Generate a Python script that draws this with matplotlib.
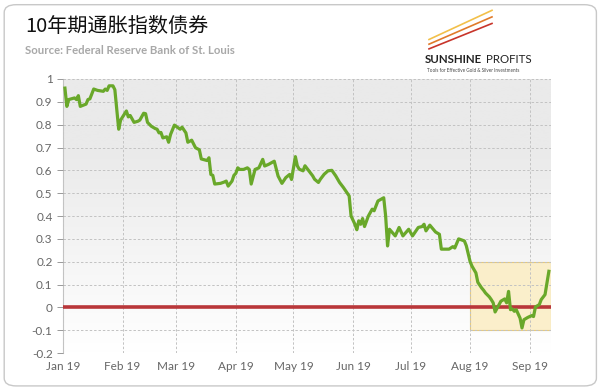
import numpy as np
import pandas as pd
import matplotlib
matplotlib.use("Agg")
import matplotlib.pyplot as plt
import matplotlib.dates as mdates
from matplotlib.patches import FancyBboxPatch, Rectangle

# values
dates = [
    "2019-01-02", "2019-01-03", "2019-01-04", "2019-01-07", "2019-01-08", "2019-01-09",
    "2019-01-10", "2019-01-13", "2019-01-14", "2019-01-15", "2019-01-17", "2019-01-19",
    "2019-01-22", "2019-01-23", "2019-01-24", "2019-01-25", "2019-01-27", "2019-01-28",
    "2019-01-29", "2019-01-30", "2019-01-31", "2019-02-03", "2019-02-04", "2019-02-05",
    "2019-02-07", "2019-02-09", "2019-02-10", "2019-02-12", "2019-02-13", "2019-02-14",
    "2019-02-16", "2019-02-18", "2019-02-19", "2019-02-20", "2019-02-21", "2019-02-22",
    "2019-02-24", "2019-02-25", "2019-02-26", "2019-02-28", "2019-03-02", "2019-03-03",
    "2019-03-04", "2019-03-06", "2019-03-07", "2019-03-09", "2019-03-11", "2019-03-13",
    "2019-03-14", "2019-03-17", "2019-03-18", "2019-03-19", "2019-03-20", "2019-03-21",
    "2019-03-24", "2019-03-26", "2019-03-27", "2019-03-28", "2019-03-30", "2019-03-31",
    "2019-04-01", "2019-04-02", "2019-04-03", "2019-04-05", "2019-04-07", "2019-04-08",
    "2019-04-09", "2019-04-11", "2019-04-13", "2019-04-15", "2019-04-16", "2019-04-18",
    "2019-04-21", "2019-04-23", "2019-04-25", "2019-04-27", "2019-04-29", "2019-04-30",
    "2019-05-02", "2019-05-03", "2019-05-04", "2019-05-06", "2019-05-07", "2019-05-09",
    "2019-05-11", "2019-05-12", "2019-05-14", "2019-05-15", "2019-05-17", "2019-05-19",
    "2019-05-21", "2019-05-23", "2019-05-25", "2019-05-27", "2019-05-30", "2019-05-31",
    "2019-06-02", "2019-06-03", "2019-06-04", "2019-06-05", "2019-06-06", "2019-06-07",
    "2019-06-09", "2019-06-11", "2019-06-12", "2019-06-14", "2019-06-17", "2019-06-18",
    "2019-06-19", "2019-06-20", "2019-06-23", "2019-06-25", "2019-06-27", "2019-06-30",
    "2019-07-02", "2019-07-05", "2019-07-07", "2019-07-08", "2019-07-09", "2019-07-11",
    "2019-07-14", "2019-07-16", "2019-07-17", "2019-07-21", "2019-07-23", "2019-07-24",
    "2019-07-26", "2019-07-29", "2019-07-30", "2019-08-01", "2019-08-02", "2019-08-04",
    "2019-08-05", "2019-08-07", "2019-08-08", "2019-08-09", "2019-08-11", "2019-08-12",
    "2019-08-13", "2019-08-14", "2019-08-16", "2019-08-17", "2019-08-19", "2019-08-20",
    "2019-08-21", "2019-08-22", "2019-08-23", "2019-08-24", "2019-08-25", "2019-08-27",
    "2019-08-28", "2019-08-29", "2019-08-31", "2019-09-02", "2019-09-03", "2019-09-04",
    "2019-09-06", "2019-09-07", "2019-09-09", "2019-09-10", "2019-09-11",
]
yields = [
    0.96, 0.88, 0.91, 0.917, 0.91, 0.927,
    0.88, 0.89, 0.91, 0.913, 0.956, 0.95,
    0.946, 0.956, 0.95, 0.97, 0.97, 0.953,
    0.866, 0.78, 0.82, 0.86, 0.834, 0.84,
    0.81, 0.815, 0.82, 0.85, 0.848, 0.81,
    0.793, 0.783, 0.78, 0.764, 0.766, 0.742,
    0.747, 0.723, 0.757, 0.798, 0.786, 0.78,
    0.789, 0.764, 0.723, 0.732, 0.699, 0.69,
    0.65, 0.643, 0.655, 0.582, 0.578, 0.54,
    0.543, 0.549, 0.553, 0.531, 0.553, 0.578,
    0.587, 0.611, 0.604, 0.604, 0.611, 0.604,
    0.54, 0.604, 0.611, 0.648, 0.619, 0.626,
    0.64, 0.575, 0.543, 0.568, 0.582, 0.56,
    0.66, 0.62, 0.605, 0.598, 0.62, 0.598,
    0.576, 0.561, 0.547, 0.561, 0.583, 0.598,
    0.60, 0.576, 0.547, 0.525, 0.488, 0.40,
    0.364, 0.34, 0.379, 0.364, 0.389, 0.354,
    0.40, 0.43, 0.423, 0.466, 0.48, 0.40,
    0.269, 0.342, 0.313, 0.35, 0.313, 0.342,
    0.313, 0.35, 0.354, 0.364, 0.335, 0.36,
    0.33, 0.32, 0.255, 0.255, 0.266, 0.26,
    0.30, 0.291, 0.27, 0.20, 0.18, 0.151,
    0.11, 0.085, 0.075, 0.063, 0.046, 0.034,
    0.02, -0.02, 0.012, 0.027, 0.037, 0.02,
    0.07, -0.01, -0.007, -0.017, -0.01, -0.047,
    -0.09, -0.054, -0.044, -0.036, -0.04, 0.002,
    0.012, 0.034, 0.056, 0.107, 0.158,
]
month_ticks = ["2019-01-01", "2019-02-01", "2019-03-01", "2019-04-01", "2019-05-01",
               "2019-06-01", "2019-07-01", "2019-08-01", "2019-09-01"]
month_labels = ["Jan 19", "Feb 19", "Mar 19", "Apr 19", "May 19",
                "Jun 19", "Jul 19", "Aug 19", "Sep 19"]
y_ticks = [-0.2, -0.1, 0, 0.1, 0.2, 0.3, 0.4, 0.5, 0.6, 0.7, 0.8, 0.9, 1]
y_labels = ["-0.2", "-0.1", "0", "0.1", "0.2", "0.3", "0.4", "0.5", "0.6", "0.7", "0.8", "0.9", "1"]
highlight_start = "2019-08-01"
highlight_range = (-0.1, 0.2)

title = "10年期通胀指数债券"
source = "Source: Federal Reserve Bank of St. Louis"

plt.rcParams["font.family"] = ["Lato", "Noto Sans CJK SC", "DejaVu Sans"]

x = pd.to_datetime(dates)
x_start = pd.Timestamp("2019-01-01")
x_end = pd.Timestamp("2019-09-12")

fig = plt.figure(figsize=(6.0, 3.91), dpi=100)
ax = fig.add_axes([0.105, 0.097, 0.813, 0.701])

# rounded frame around the whole card
frame = FancyBboxPatch((0.007, 0.013), 0.987, 0.975, boxstyle="round,pad=0,rounding_size=0.02",
                       transform=fig.transFigure, facecolor="white", edgecolor="#c8c8c8",
                       linewidth=1.0, zorder=-10)
fig.patches.append(frame)

# light gray to white gradient behind the plot
grad = np.linspace(0, 1, 256).reshape(-1, 1)
grad = np.clip(grad * 1.35, 0, 1)
cmap = matplotlib.colors.LinearSegmentedColormap.from_list("bg", ["#ffffff", "#eaeaea"])
ax.imshow(grad, extent=[mdates.date2num(x_start), mdates.date2num(x_end), -0.2, 1.0],
          aspect="auto", cmap=cmap, origin="lower", zorder=0)

ax.add_patch(Rectangle((mdates.date2num(pd.Timestamp(highlight_start)), highlight_range[0]),
                       mdates.date2num(x_end) - mdates.date2num(pd.Timestamp(highlight_start)),
                       highlight_range[1] - highlight_range[0],
                       facecolor="#fbeec6", edgecolor="#e6c66e", linewidth=0.8, alpha=0.9, zorder=1))

ax.axhline(0, color="#b9373a", linewidth=2.6, zorder=3)
ax.plot(x, yields, color="#69a82a", linewidth=2.3, zorder=4, solid_joinstyle="round")

ax.set_xlim(x_start, x_end)
ax.set_ylim(-0.2, 1.0)
ax.set_xticks(pd.to_datetime(month_ticks))
ax.set_xticklabels(month_labels)
ax.set_yticks(y_ticks)
ax.set_yticklabels(y_labels)

ax.grid(True, color="#c2c2c2", linestyle=(0, (2.5, 2)), linewidth=0.7, zorder=2)
ax.set_axisbelow(False)
for s in ["top", "right"]:
    ax.spines[s].set_visible(False)
ax.spines["left"].set_color("#c4c4c4")
ax.spines["bottom"].set_visible(False)
ax.tick_params(axis="y", colors="#999999", labelcolor="#666666", labelsize=8.5, length=4, width=0.7)
ax.tick_params(axis="x", length=0, labelcolor="#666666", labelsize=8.5, pad=6)

fig.text(0.042, 0.932, title, fontsize=14.5, color="#111111",
         family=["Noto Sans CJK SC", "DejaVu Sans"], va="center")
fig.text(0.042, 0.872, source, fontsize=8.2, color="#a8a8a8", fontweight="bold", va="center")

# sunshine profits logo
for dy, col in [(0.0, "#c8352b"), (0.012, "#e07a2a"), (0.024, "#f2c04a")]:
    fig.add_artist(plt.Line2D([0.715, 0.82], [0.875 + dy, 0.94 + dy * 1.4], color=col,
                              linewidth=1.2, transform=fig.transFigure))
fig.text(0.708, 0.848, "SUNSHINE", fontsize=8.3, fontweight="bold", color="#222222", va="center")
fig.text(0.810, 0.848, "PROFITS", fontsize=8.3, color="#222222", va="center")
fig.text(0.712, 0.820, "Tools for Effective Gold & Silver Investments", fontsize=3.3,
         color="#444444", va="center")

fig.savefig("out.png", dpi=100)
